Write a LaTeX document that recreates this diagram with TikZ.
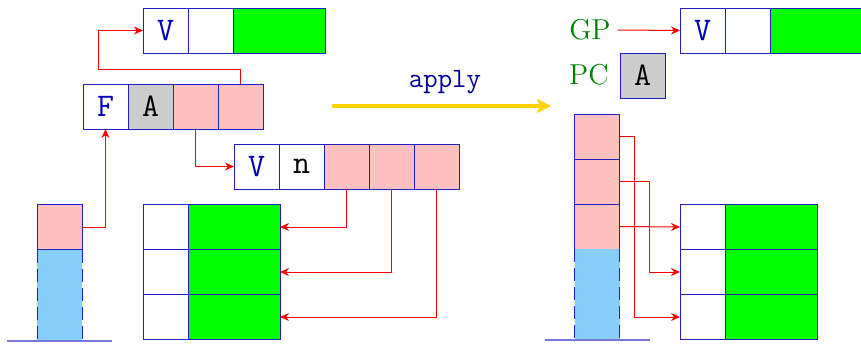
\RequirePackage{fix-cm}
\documentclass[tikz,border=0pt]{standalone}
\usetikzlibrary{arrows.meta,positioning}

\definecolor{cellblue}{RGB}{30,30,195}
\definecolor{txtblue}{RGB}{0,0,185}
\definecolor{pinkcell}{RGB}{255,192,192}
\definecolor{graycell}{RGB}{204,204,204}
\definecolor{stackblue}{RGB}{135,206,250}
\definecolor{regname}{RGB}{0,128,0}
\definecolor{applyblue}{RGB}{0,0,150}
\definecolor{applyarrow}{RGB}{255,210,0}

\tikzset{
  cell/.style={draw=cellblue, line width=.5pt, minimum width=22.5pt, minimum height=22.5pt,
    inner sep=0pt, outer sep=0pt, font=\ttfamily\fontsize{16.5}{18}\selectfont},
  wide/.style={cell, minimum width=46pt, fill=green},
  ptr/.style={red, line width=.5pt, -{Stealth[length=4.5pt,width=4pt]}},
  floor/.style={draw=cellblue!60, line width=1pt},
  stackrest/.style={fill=stackblue, minimum width=22.5pt, minimum height=45.5pt,
    inner sep=0pt, outer sep=0pt},
  sides/.style={cellblue, line width=.5pt, dash pattern=on 6.5pt off 3pt},
  reg/.style={font=\Large, text=regname}
}

\begin{document}
\begin{tikzpicture}[x=0.5pt,y=-0.5pt]
\useasboundingbox (0,0) rectangle (861,348);

% left: before
\node[cell, text=txtblue] (v1) at (165.5,30.5) {V};
\node[cell, right=0pt of v1] (v2) {};
\node[wide, right=0pt of v2] (v3) {};

\node[cell, text=txtblue] (f1) at (105.5,106.5) {F};
\node[cell, fill=graycell, right=0pt of f1] (f2) {A};
\node[cell, fill=pinkcell, right=0pt of f2] (f3) {};
\node[cell, fill=pinkcell, right=0pt of f3] (f4) {};

\node[cell, text=txtblue] (n1) at (256.5,166.5) {V};
\node[cell, right=0pt of n1] (n2) {n};
\node[cell, fill=pinkcell, right=0pt of n2] (n3) {};
\node[cell, fill=pinkcell, right=0pt of n3] (n4) {};
\node[cell, fill=pinkcell, right=0pt of n4] (n5) {};

% stack
\node[cell, fill=pinkcell] (s1) at (59.5,227) {};
\node[stackrest, below=0pt of s1] (s0) {};
\draw[sides] (s0.north west) -- (s0.south west) (s0.north east) -- (s0.south east);
\draw[floor] ([xshift=-15pt]s0.south west) -- ([xshift=15pt]s0.south east);

% table
\node[cell] (t1a) at (165.5,227) {};
\node[wide, right=0pt of t1a] (t1b) {};
\node[cell, below=0pt of t1a] (t2a) {};
\node[wide, right=0pt of t2a] (t2b) {};
\node[cell, below=0pt of t2a] (t3a) {};
\node[wide, right=0pt of t3a] (t3b) {};

\draw[ptr] (s1.east) -| (f1.south);
\draw[ptr] (f4.north) -- ++(0,-15) -| ([xshift=-22.5pt]v1.west) -- (v1.west);
\draw[ptr] (f3.south) |- (n1.west);
\draw[ptr] (n3.south) |- (t1b.east);
\draw[ptr] (n4.south) |- (t2b.east);
\draw[ptr] (n5.south) |- (t3b.east);

% apply
\coordinate (apA) at (332,106);
\coordinate (apB) at (551,106);
\draw[applyarrow, line width=1.6pt, -{Stealth[length=7pt,width=7pt,inset=1.5pt]}] (apA) -- (apB);
\node[font=\ttfamily\fontsize{14}{16}\selectfont, text=applyblue] (apl) at (445,82) {apply};

% right: after
\node[cell, text=txtblue] (rv1) at (702.5,30.5) {V};
\node[cell, right=0pt of rv1] (rv2) {};
\node[wide, right=0pt of rv2] (rv3) {};

\node[reg] (gp) at (590,30) {GP};
\node[reg] (pc) at (589,75) {PC};
\node[cell, fill=graycell] (pa) at (642.5,75.5) {A};
\draw[ptr] (gp.east) -- (rv1.west);

\node[cell, fill=pinkcell] (r3) at (597,136.5) {};
\node[cell, fill=pinkcell, below=0pt of r3] (r2) {};
\node[cell, fill=pinkcell, below=0pt of r2] (r1) {};
\node[stackrest, below=0pt of r1] (r0) {};
\draw[sides] (r0.north west) -- (r0.south west) (r0.north east) -- (r0.south east);
\draw[floor] ([xshift=-15pt]r0.south west) -- ([xshift=15pt]r0.south east);

\node[cell] (u1a) at (702.5,227) {};
\node[wide, right=0pt of u1a] (u1b) {};
\node[cell, below=0pt of u1a] (u2a) {};
\node[wide, right=0pt of u2a] (u2b) {};
\node[cell, below=0pt of u2a] (u3a) {};
\node[wide, right=0pt of u3a] (u3b) {};

\draw[ptr] (r3.east) -- ++(15,0) |- (u3a.west);
\draw[ptr] (r2.east) -- ++(30,0) |- (u2a.west);
\draw[ptr] (r1.east) -- (u1a.west);
\end{tikzpicture}
\end{document}
